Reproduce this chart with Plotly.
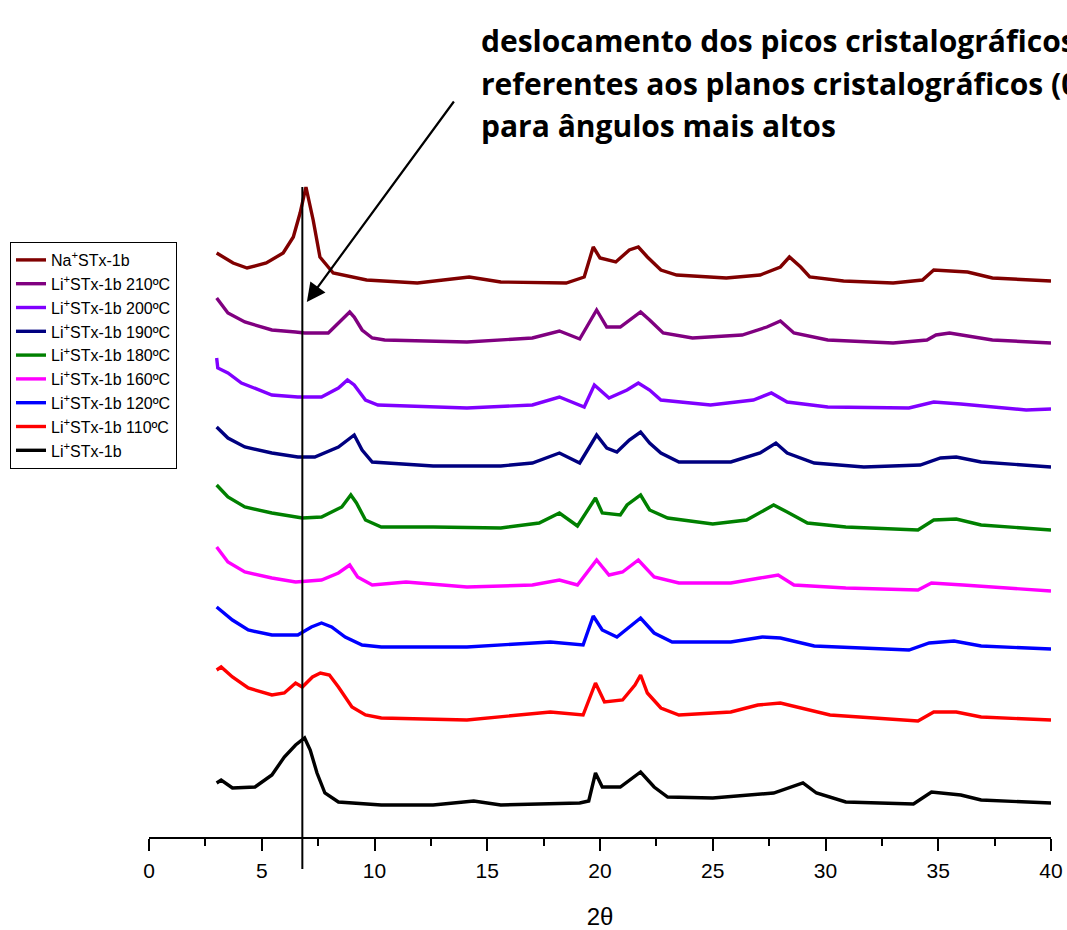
import plotly.graph_objects as go

# ---- data: 2-theta positions and stacked intensities (a.u.) ----
x_na = [3.0,3.73,4.35,5.2,5.95,6.4,6.7,6.96,7.28,7.58,8.17,9.65,11.9,14.2,15.6,18.5,19.3,19.55,19.7,20.0,
        20.7,21.3,21.7,22.1,22.7,23.4,25.6,27.1,28.0,28.4,28.9,29.3,30.8,33.0,34.3,34.8,35.7,36.3,37.4,40]
y_na = [584,574,569,574,584,600,624,650,617,580,564,557,554,560,555,554,560,580,590,579,
        575,587,590,580,567,562,559,562,570,580,570,560,556,554,557,567,566,565,559,556]

x_210 = [3.0,3.5,4.25,5.45,6.5,6.9,7.95,8.4,8.9,9.1,9.45,9.9,10.45,14.1,17.0,18.2,19.1,19.85,20.3,20.9,
         21.8,22.2,22.8,24.1,26.3,27.4,28.0,28.6,30.1,33.0,34.5,34.9,35.5,37.4,40]
y_210 = [539,524,515,507,505,504,504,514,525,520,507,499,497,495,499,506,498,527,510,510,
         525,517,504,499,502,510,516,504,497,494,497,502,504,497,494]

x_200 = [3.0,3.05,3.5,4.1,5.45,6.6,7.65,8.4,8.8,9.1,9.6,10.15,14.1,17.0,18.2,19.3,19.75,20.4,21.2,21.7,
         22.2,22.7,24.9,26.8,27.6,28.3,30.1,33.7,34.8,36.0,38.9,40]
y_200 = [479,469,464,454,442,440,440,449,457,452,437,432,429,432,440,430,452,439,447,454,
         447,437,432,437,444,435,430,429,435,433,427,428]

x_190 = [3.0,3.5,4.25,5.45,6.6,7.35,8.4,8.8,9.1,9.45,9.9,12.6,15.6,17.0,18.2,19.1,19.85,20.3,20.75,21.3,
         21.8,22.2,22.7,23.5,25.8,27.1,27.8,28.3,29.5,31.7,34.2,35.1,35.8,36.9,40]
y_190 = [410,399,390,384,380,380,390,397,402,387,375,371,371,374,384,374,402,389,385,397,
         405,394,384,375,375,384,394,384,374,370,372,379,380,375,370]

x_180 = [3.0,3.5,4.25,5.45,6.8,7.65,8.55,8.95,9.2,9.6,10.3,12.6,15.6,17.3,18.2,19.0,19.8,20.1,20.9,21.2,
         21.8,22.2,23.0,25.0,26.5,27.7,28.3,29.2,30.9,34.1,34.8,35.8,36.9,40]
y_180 = [352,340,330,324,319,320,330,342,334,317,310,310,309,314,324,311,339,324,322,332,
         342,327,319,313,317,332,325,314,310,307,317,318,312,307]

x_160 = [3.0,3.5,4.25,5.45,6.5,7.65,8.4,8.9,9.25,9.9,11.4,14.1,17.0,18.2,19.0,19.85,20.4,21.0,21.7,22.4,
         23.5,25.8,27.1,27.9,28.6,30.9,34.1,34.7,36.1,40]
y_160 = [290,275,265,259,255,257,264,272,260,252,255,250,252,257,252,277,262,265,277,260,
         254,254,259,262,252,249,247,254,252,246]

x_120 = [3.0,3.7,4.4,5.45,6.6,7.2,7.65,8.1,8.7,9.45,10.3,14.1,17.8,19.25,19.7,20.1,20.75,21.8,22.4,23.2,
         25.8,27.2,28.0,29.5,33.7,34.6,35.7,36.9,40]
y_120 = [230,217,207,202,202,210,214,210,200,192,190,190,195,192,221,207,200,219,204,195,
         195,200,199,191,187,194,196,191,188]

x_110 = [3.0,3.2,3.7,4.4,5.45,6.0,6.5,6.8,7.25,7.6,8.0,8.4,9.0,9.6,10.3,14.1,17.8,19.25,19.8,20.2,
         21.0,21.55,21.8,22.1,22.7,23.5,25.8,27.0,28.0,28.7,30.2,34.1,34.8,35.8,36.9,40]
y_110 = [167,170,160,149,142,144,154,150,160,164,162,150,130,122,119,117,125,122,154,135,
         137,152,162,144,129,122,125,132,134,130,122,116,125,125,120,117]

x_li = [3.0,3.2,3.7,4.7,5.45,6.0,6.5,6.9,7.15,7.45,7.8,8.4,10.3,12.6,14.4,15.6,19.1,19.5,19.8,20.1,
        20.9,21.8,22.4,23.0,25.0,27.7,29.0,29.6,30.9,33.9,34.7,36.0,36.9,40]
y_li = [54,57,49,50,62,80,92,99,87,64,44,35,32,32,36,32,34,36,64,50,
        50,65,50,40,39,44,54,44,35,33,45,42,37,34]

names = ["Na<sup>+</sup>STx-1b", "Li<sup>+</sup>STx-1b 210ºC", "Li<sup>+</sup>STx-1b 200ºC",
         "Li<sup>+</sup>STx-1b 190ºC", "Li<sup>+</sup>STx-1b 180ºC", "Li<sup>+</sup>STx-1b 160ºC",
         "Li<sup>+</sup>STx-1b 120ºC", "Li<sup>+</sup>STx-1b 110ºC", "Li<sup>+</sup>STx-1b"]
xs = [x_na, x_210, x_200, x_190, x_180, x_160, x_120, x_110, x_li]
ys = [y_na, y_210, y_200, y_190, y_180, y_160, y_120, y_110, y_li]
colors = ["#800000", "#800080", "#8000FF", "#000080", "#008000", "#FF00FF", "#0000FF", "#FF0000", "#000000"]

x_ticks = [0, 5, 10, 15, 20, 25, 30, 35, 40]
shift_mark = 6.8          # 2-theta of the guide line
x_range = [0, 40]
y_range = [0, 837]

fig = go.Figure()
for i, (n, x, y, c) in enumerate(zip(names, xs, ys, colors)):
    fig.add_trace(go.Scatter(x=x, y=y, mode="lines", name=n,
                             line=dict(color=c, width=3.4)))

W, H = 1067, 930
ml, mr, mt, mb = 149, 16, 0, 93
pw, ph = W - ml - mr, H - mt - mb

def px_x(p):  # pixel -> paper x
    return (p - ml) / pw

def px_y(p):  # pixel -> paper y
    return (H - mb - p) / ph

FONT = "Liberation Sans"

fig.update_layout(
    width=W, height=H,
    margin=dict(l=ml, r=mr, t=mt, b=mb, autoexpand=False),
    plot_bgcolor="white", paper_bgcolor="white",
    font=dict(family=FONT, color="black"),
    hovermode=False,
    xaxis=dict(range=x_range, tickvals=x_ticks, ticks="outside", ticklen=12, tickwidth=2,
               tickcolor="black", showline=True, linewidth=2, linecolor="black",
               showgrid=False, zeroline=False, tickfont=dict(size=21, family=FONT),
               ticklabelstandoff=2, ticklabeloverflow="allow",
               minor=dict(dtick=2.5, ticks="outside", ticklen=7, tickwidth=2, tickcolor="black"),
               title=dict(text="2θ", font=dict(size=24, family=FONT), standoff=27)),
    yaxis=dict(range=y_range, visible=False),
    legend=dict(x=px_x(10), y=px_y(242), xanchor="left", yanchor="top",
                bordercolor="black", borderwidth=1, bgcolor="white",
                font=dict(size=16, family=FONT), traceorder="normal"),
    showlegend=True,
)

# guide line through the shifted peak
fig.add_shape(type="line", xref="paper", yref="paper",
              x0=(shift_mark - x_range[0]) / (x_range[1] - x_range[0]),
              x1=(shift_mark - x_range[0]) / (x_range[1] - x_range[0]),
              y0=px_y(869), y1=max(y_na) / (y_range[1] - y_range[0]),
              line=dict(color="black", width=2), layer="above")

# arrow
fig.add_annotation(x=7.0, y=535, ax=13.57, ay=737, xref="x", yref="y", axref="x", ayref="y",
                   text="", showarrow=True, arrowhead=2, arrowsize=1.7, arrowwidth=2.2,
                   arrowcolor="black", standoff=0)

lines = ["deslocamento dos picos cristalográficos",
         "referentes aos planos cristalográficos (001)",
         "para ângulos mais altos"]
for t, yy in zip(lines, [40, 83, 126]):
    fig.add_annotation(x=px_x(479), y=px_y(yy), xref="paper", yref="paper", text="<b>" + t + "</b>",
                       showarrow=False, xanchor="left", yanchor="middle",
                       font=dict(family="Open Sans", size=30, color="black"))

fig.write_html("out.html", config={"displayModeBar": False},
               post_script="document.body.style.margin='0px';")
